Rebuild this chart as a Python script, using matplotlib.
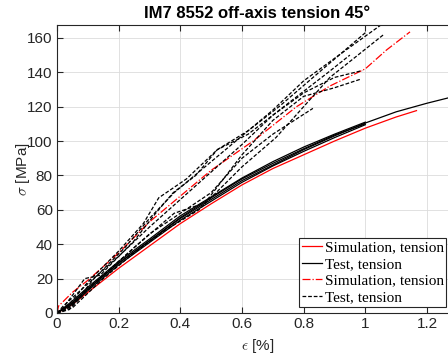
import matplotlib
matplotlib.use("Agg")
import matplotlib.pyplot as plt
import numpy as np
from matplotlib.ticker import FormatStrFormatter

plt.rcParams['font.family'] = ['Liberation Sans', 'DejaVu Sans']
plt.rcParams['mathtext.fontset'] = 'cm'

# strain [%] / stress [MPa]
# simulation, solid
sim_eps = [0, 0.05, 0.1, 0.2, 0.3, 0.4, 0.5, 0.6, 0.7, 0.8, 0.9, 1.0, 1.1, 1.166]
sim_sig = [0, 5, 12, 26, 39, 52, 63.5, 74.5, 84, 92, 100, 107.5, 114, 117.7]

# tests, solid
test_eps_long = [0, 0.05, 0.1, 0.2, 0.3, 0.4, 0.5, 0.6, 0.7, 0.8, 0.9, 1.0, 1.1, 1.2, 1.3]
test_sig_long = [0, 6, 14, 29, 42, 55, 66, 77, 86, 95, 103, 110.5, 117, 122, 126.5]
test_eps = [0, 0.05, 0.1, 0.2, 0.3, 0.4, 0.5, 0.6, 0.7, 0.8, 0.9, 1.0]
test_sig_a = [0, 7, 15, 30, 43, 56.5, 67.5, 78.5, 88, 96.5, 104, 111]
test_sig_b = [0, 6, 14, 29, 42, 55.5, 67, 78, 87, 95.5, 103.5, 110]
test_sig_c = [0, 5, 13, 28, 41, 54, 65, 76, 85.5, 94, 102, 109.5]

# simulation, dash-dot
sim2_eps = [0, 0.005, 0.05, 0.1, 0.2, 0.3, 0.4, 0.5, 0.636, 0.777, 0.885, 1.0, 1.069, 1.145]
sim2_sig = [0, 4, 12, 19, 35, 53, 68, 83, 100, 120, 132, 142, 153, 163.5]

# tests, dashed
dA_eps = [0, 0.03, 0.1, 0.2, 0.28, 0.33, 0.42, 0.52, 0.62, 0.72, 0.85, 1.0]
dA_sig = [0, 3, 18, 36, 52, 67, 78, 95, 106, 120, 140, 163]
dB_eps = [0, 0.04, 0.12, 0.22, 0.3, 0.38, 0.5, 0.6, 0.7, 0.8, 0.93, 1.07]
dB_sig = [0, 2, 20, 38, 55, 70, 88, 103, 118, 135, 152, 170]
dC_eps = [0, 0.05, 0.15, 0.25, 0.35, 0.46, 0.6, 0.71, 0.8, 0.885, 1.06]
dC_sig = [0, 3, 20, 35, 48, 60, 85, 102, 120, 137, 162]
dD_eps = [0, 0.02, 0.1, 0.2, 0.3, 0.4, 0.5, 0.6, 0.7, 0.8, 0.9, 0.99]
dD_sig = [0, 4, 17, 33, 50, 66, 82, 98, 115, 128, 137, 141]
dE_eps = [0, 0.05, 0.12, 0.25, 0.38, 0.48, 0.6, 0.7, 0.8, 0.9, 0.985]
dE_sig = [0, 4, 17, 38, 58, 64, 92, 112, 126, 131, 136]
dF_eps = [0, 0.03, 0.1, 0.2, 0.3, 0.4, 0.5, 0.6, 0.7, 0.83]
dF_sig = [0, 2, 14, 30, 46, 58, 70, 90, 104, 119]
dG_eps = [0, 0.02, 0.09, 0.14, 0.25, 0.32, 0.377, 0.45, 0.52, 0.62, 0.75, 0.88, 0.95]
dG_sig = [0, 3, 20, 22, 42, 58, 70, 80, 95, 104, 122, 140, 150]

fig = plt.figure(figsize=(4.48, 3.62), dpi=100)
ax = fig.add_axes([57 / 448, 49 / 362, 400.8 / 448, 288 / 362])

lw = 0.9
ax.plot(sim_eps, sim_sig, color='red', lw=lw, label='Simulation, tension')
ax.plot(test_eps_long, test_sig_long, color='black', lw=lw, label='Test, tension')
for s in [test_sig_a, test_sig_b, test_sig_c]:
    ax.plot(test_eps, s, color='black', lw=lw)

ax.plot(sim2_eps, sim2_sig, color='red', lw=lw, ls='-.', label='Simulation, tension')
dashed = [(dA_eps, dA_sig), (dB_eps, dB_sig), (dC_eps, dC_sig), (dD_eps, dD_sig),
          (dE_eps, dE_sig), (dF_eps, dF_sig), (dG_eps, dG_sig)]
for i, (e, s) in enumerate(dashed):
    ax.plot(e, s, color='black', lw=lw, ls=(0, (3, 1.5)),
            label='Test, tension' if i == 0 else None)

ax.set_xlim(0, 1.3)
ax.set_ylim(0, 167.5)
ax.set_xticks(np.arange(0, 1.25, 0.2))
ax.set_yticks(np.arange(0, 161, 20))
ax.xaxis.set_major_formatter(FormatStrFormatter('%g'))
ax.grid(True, color='#dcdcdc', lw=0.6)
ax.set_axisbelow(True)
ax.tick_params(direction='in', top=True, right=True, labelsize=11,
               colors='#262626', length=4, pad=3)
for sp in ax.spines.values():
    sp.set_color('#262626')

ax.set_xlabel(r'$\epsilon$ [%]', fontsize=11, color='#262626', labelpad=4)
ax.set_ylabel(r'$\sigma$ [MPa]', fontsize=11, color='#262626', labelpad=-3)
ax.set_title('IM7 8552 off-axis tension 45°', fontsize=12, fontweight='bold', pad=5)

leg = ax.legend(loc='lower right', bbox_to_anchor=(0.9706, 0.022), borderaxespad=0,
                prop={'family': 'Liberation Serif', 'size': 11},
                fancybox=False, framealpha=1, edgecolor='#262626',
                handlelength=1.3, handletextpad=0.2, labelspacing=0.2,
                borderpad=0.15)
leg.get_frame().set_linewidth(0.8)

fig.savefig('out.png', dpi=100)
